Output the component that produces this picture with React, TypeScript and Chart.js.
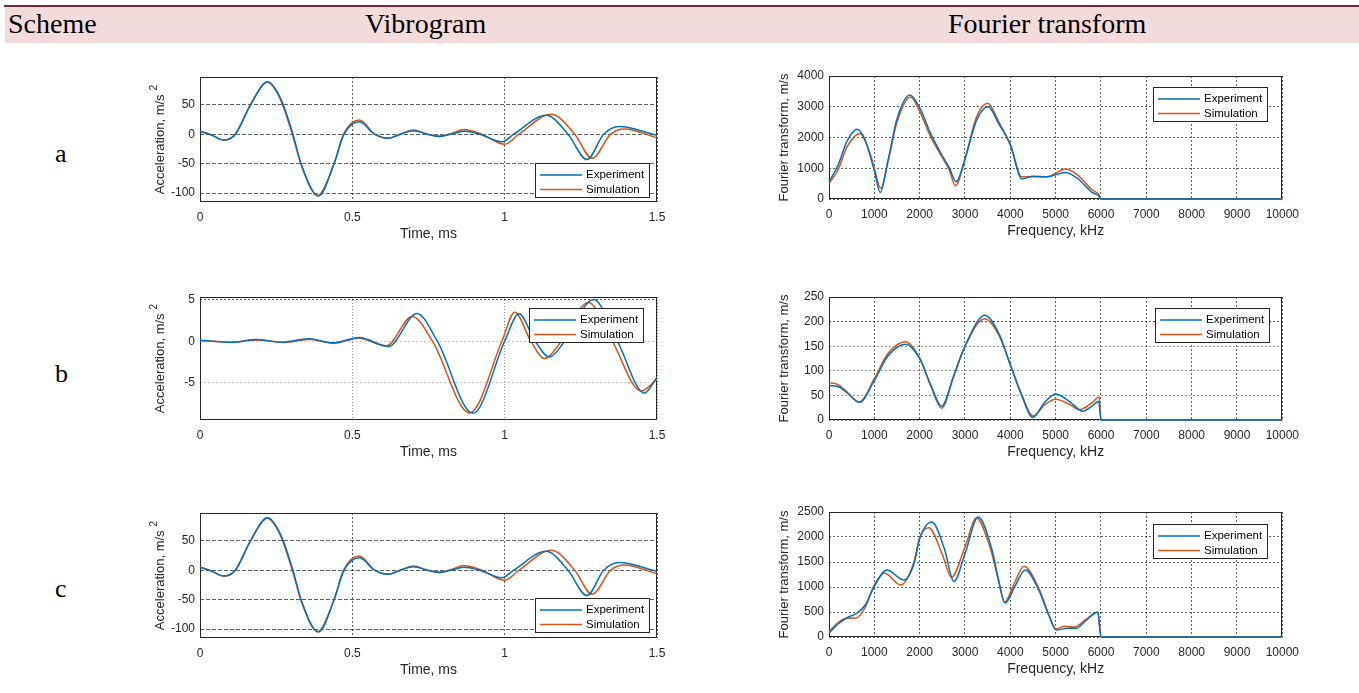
import React, { useEffect, useRef } from "react";
import { Chart, registerables } from "chart.js";
Chart.register(...registerables);

// ---------- Vibrogram a / c (same records) ----------
const vibATimeExp = [0, 0.04, 0.077, 0.116, 0.166, 0.222, 0.265, 0.305, 0.333, 0.389, 0.44, 0.473, 0.523, 0.573, 0.618, 0.657, 0.701, 0.746, 0.785, 0.83, 0.868, 0.918, 0.991, 1.03, 1.136, 1.208, 1.27, 1.325, 1.376, 1.5];
const vibAExp = [5, -2, -10, 0, 50, 89, 60, 0, -52, -105, -50, 0, 21, 0, -7, 0, 6, 0, -4, 1, 5, 0, -13, 0, 32, 0, -43, 0, 13, -2];
const vibATimeSim = [0, 0.04, 0.077, 0.116, 0.166, 0.22, 0.263, 0.303, 0.332, 0.387, 0.44, 0.471, 0.523, 0.573, 0.618, 0.657, 0.701, 0.746, 0.79, 0.83, 0.865, 0.925, 1.0, 1.047, 1.153, 1.23, 1.287, 1.348, 1.392, 1.5];
const vibASim = [5, -2, -10, 0, 50, 88, 60, 0, -52, -104, -50, 0, 24, 0, -7, 0, 7, 0, -3, 2, 8, 0, -17, 0, 34, 0, -41, 0, 9, -6];

// ---------- Vibrogram b ----------
const vibBTimeExp = [0, 0.105, 0.183, 0.266, 0.356, 0.434, 0.523, 0.618, 0.712, 0.779, 0.896, 1.0, 1.047, 1.1, 1.147, 1.197, 1.292, 1.37, 1.459, 1.5];
const vibBExp = [0.12, -0.15, 0.2, -0.12, 0.3, -0.2, 0.45, -0.65, 3.33, 0, -8.7, 0, 3.3, 0, -1.9, 0, 5.04, 0, -6.26, -4.35];
const vibBTimeSim = [0, 0.1, 0.19, 0.28, 0.36, 0.44, 0.52, 0.612, 0.696, 0.763, 0.885, 0.991, 1.033, 1.086, 1.13, 1.186, 1.275, 1.353, 1.448, 1.5];
const vibBSim = [0.1, -0.1, 0.15, -0.15, 0.25, -0.25, 0.35, -0.55, 2.97, 0, -8.65, 0, 3.5, 0, -2.1, 0, 4.67, 0, -6.0, -4.6];

// ---------- Fourier a ----------
const fftAFreqExp = [0, 200, 400, 625, 800, 1000, 1130, 1300, 1500, 1785, 2000, 2250, 2500, 2650, 2805, 3000, 3250, 3510, 3750, 4000, 4255, 4500, 4800, 5220, 5500, 5800, 5950, 6000, 10000];
const fftAExp = [560, 1100, 1890, 2270, 1900, 920, 215, 1240, 2600, 3380, 2970, 2100, 1400, 1030, 560, 1300, 2540, 3000, 2430, 1780, 650, 740, 720, 865, 650, 215, 110, 0, 0];
const fftAFreqSim = [0, 200, 400, 685, 900, 1000, 1140, 1300, 1500, 1800, 2000, 2250, 2500, 2650, 2790, 3000, 3250, 3500, 3750, 4000, 4255, 4500, 4800, 5220, 5500, 5800, 5950, 6000, 10000];
const fftASim = [500, 950, 1700, 2130, 1500, 1000, 345, 1200, 2500, 3320, 2850, 2000, 1350, 950, 430, 1300, 2650, 3110, 2500, 1750, 720, 720, 720, 975, 760, 300, 150, 0, 0];

// ---------- Fourier b ----------
const fftBFreqExp = [0, 200, 400, 670, 1000, 1300, 1690, 2000, 2250, 2485, 2750, 3000, 3437, 3750, 4000, 4250, 4494, 4750, 5000, 5300, 5600, 5800, 5950, 6000, 10000];
const fftBExp = [70, 68, 55, 36, 80, 130, 154, 125, 70, 28, 90, 150, 213, 175, 112, 50, 5, 35, 53, 38, 18, 28, 38, 0, 0];
const fftBFreqSim = [0, 200, 400, 670, 1000, 1300, 1690, 2000, 2250, 2485, 2750, 3000, 3437, 3750, 4000, 4250, 4500, 4750, 5000, 5300, 5520, 5800, 5960, 6000, 10000];
const fftBSim = [76, 72, 57, 36, 84, 135, 159, 126, 68, 24, 88, 150, 206, 172, 113, 52, 8, 30, 42, 32, 21, 35, 47, 0, 0];

// ---------- Fourier c ----------
const fftCFreqExp = [0, 200, 390, 610, 800, 1000, 1280, 1650, 1875, 2000, 2270, 2545, 2755, 3000, 3290, 3590, 3735, 3885, 4110, 4330, 4630, 4850, 5015, 5260, 5450, 5670, 5930, 6000, 10000];
const fftCExp = [75, 260, 380, 475, 640, 1015, 1340, 1140, 1465, 1965, 2300, 1765, 1110, 1665, 2400, 1765, 1160, 680, 1030, 1340, 930, 430, 140, 175, 175, 330, 495, 0, 0];
const fftCFreqSim = [0, 200, 390, 600, 800, 1000, 1220, 1580, 1875, 2000, 2200, 2500, 2700, 3000, 3250, 3550, 3735, 3870, 4100, 4300, 4630, 4850, 5000, 5200, 5400, 5650, 5930, 6000, 10000];
const fftCSim = [105, 290, 375, 380, 595, 1040, 1280, 1040, 1500, 1990, 2185, 1650, 1195, 1800, 2380, 1800, 1150, 695, 1100, 1415, 970, 450, 160, 215, 195, 340, 500, 0, 0];

// ---------- ticks / labels ----------
const timeTicks = [0, 0.5, 1, 1.5];
const freqTicks = [0, 1000, 2000, 3000, 4000, 5000, 6000, 7000, 8000, 9000, 10000];
const accelTicksAC = [-100, -50, 0, 50];
const accelTicksB = [-5, 0, 5];
const fftTicksA = [0, 1000, 2000, 3000, 4000];
const fftTicksB = [0, 50, 100, 150, 200, 250];
const fftTicksC = [0, 500, 1000, 1500, 2000, 2500];
const seriesNames = ["Experiment", "Simulation"];
const headerLabels = ["Scheme", "Vibrogram", "Fourier transform"];
const rowLabels = ["a", "b", "c"];

const BLUE = "#0072BD";
const RED = "#D95319";
const AX = "#262626";
const SANS = "'Liberation Sans', Arial, sans-serif";

const pts = (xs: number[], ys: number[]) => xs.map((x, i) => ({ x, y: ys[i] }));

const framePlugin = {
  id: "frameBox",
  beforeDatasetsDraw(chart: any) {
    const { ctx, chartArea: a } = chart;
    ctx.save();
    ctx.strokeStyle = AX;
    ctx.lineWidth = 1;
    ctx.strokeRect(Math.round(a.left) + 0.5, Math.round(a.top) + 0.5, Math.round(a.right - a.left) - 1, Math.round(a.bottom - a.top) - 1);
    ctx.restore();
  },
  afterDraw(chart: any) {
    const { ctx, chartArea: a } = chart;
    const yt = chart.options.plugins.yTitleOpt;
    if (yt) {
      ctx.save();
      ctx.translate(a.left - yt.dx, (a.top + a.bottom) / 2);
      ctx.rotate(-Math.PI / 2);
      ctx.fillStyle = AX;
      ctx.textBaseline = "middle";
      ctx.textAlign = "left";
      ctx.font = `13px ${SANS}`;
      const w1 = ctx.measureText(yt.text).width;
      let w2 = 0;
      if (yt.sup) {
        ctx.font = `10px ${SANS}`;
        w2 = ctx.measureText(yt.sup).width + 4;
      }
      const start = -(w1 + w2) / 2;
      ctx.font = `13px ${SANS}`;
      ctx.fillText(yt.text, start, 0);
      if (yt.sup) {
        ctx.font = `10px ${SANS}`;
        ctx.fillText(yt.sup, start + w1 + 4, -6);
      }
      ctx.restore();
    }
    const lg = chart.options.plugins.boxLegend;
    if (!lg) return;
    const w = 115, h = 35;
    const left = Math.round(a.right - lg.dx - w);
    const top = lg.corner === "ne" ? Math.round(a.top + lg.dy) : Math.round(a.bottom - lg.dy - h);
    ctx.save();
    ctx.fillStyle = "#ffffff";
    ctx.fillRect(left, top, w, h);
    ctx.strokeStyle = AX;
    ctx.lineWidth = 1;
    ctx.strokeRect(left + 0.5, top + 0.5, w - 1, h - 1);
    const colors = [BLUE, RED];
    ctx.font = `11.5px ${SANS}`;
    ctx.textBaseline = "middle";
    seriesNames.forEach((name, i) => {
      const y = top + 12 + i * 14.5;
      ctx.strokeStyle = colors[i];
      ctx.lineWidth = 1.5;
      ctx.beginPath();
      ctx.moveTo(left + 5, y);
      ctx.lineTo(left + 47, y);
      ctx.stroke();
      ctx.fillStyle = "#000";
      ctx.fillText(name, left + 51, y);
    });
    ctx.restore();
  },
};

type PanelProps = {
  plot: { x0: number; y0: number; x1: number; y1: number };
  xMin: number; xMax: number; xTicks: number[]; xTitle: string;
  yMin: number; yMax: number; yTicks: number[];
  yTitle: { text: string; sup?: string; dx: number };
  exp: { x: number; y: number }[];
  sim: { x: number; y: number }[];
  legend: { corner: "ne" | "se"; dx: number; dy: number };
  xGridColor: any; yGridColor: any; xDash: number[]; yDash: number[];
};

const YW = 60, PT = 14, PR = 22, XH = 42;

function Panel(p: PanelProps) {
  const ref = useRef<HTMLCanvasElement>(null);
  const W = YW + (p.plot.x1 - p.plot.x0) + PR;
  const H = PT + (p.plot.y1 - p.plot.y0) + XH;
  useEffect(() => {
    const chart = new Chart(ref.current!, {
      type: "line",
      data: {
        datasets: [
          { label: seriesNames[0], data: p.exp, borderColor: BLUE, borderWidth: 1.5, pointRadius: 0, cubicInterpolationMode: "monotone", fill: false, clip: 2 },
          { label: seriesNames[1], data: p.sim, borderColor: RED, borderWidth: 1.5, pointRadius: 0, cubicInterpolationMode: "monotone", fill: false, clip: 2 },
        ],
      },
      options: {
        animation: false,
        responsive: false,
        devicePixelRatio: 1,
        layout: { padding: { top: PT, right: PR, left: 0, bottom: 0 } },
        plugins: { legend: { display: false }, tooltip: { enabled: false }, boxLegend: p.legend, yTitleOpt: p.yTitle } as any,
        scales: {
          x: {
            type: "linear",
            min: p.xMin,
            max: p.xMax,
            afterBuildTicks: (s: any) => { s.ticks = p.xTicks.map((v) => ({ value: v })); },
            afterFit: (s: any) => { s.height = XH; },
            ticks: { color: AX, font: { family: SANS, size: 12 }, padding: 8, maxRotation: 0, autoSkip: false, callback: (v: any) => String(v) },
            grid: { color: p.xGridColor, drawTicks: false, lineWidth: 1 },
            border: { display: false, dash: p.xDash },
            title: { display: true, text: p.xTitle, color: AX, font: { family: SANS, size: 14 }, padding: { top: 0, bottom: 1 } },
          },
          y: {
            type: "linear",
            min: p.yMin,
            max: p.yMax,
            afterBuildTicks: (s: any) => { s.ticks = p.yTicks.map((v) => ({ value: v })); },
            afterFit: (s: any) => { s.width = YW; },
            ticks: { color: AX, font: { family: SANS, size: 12 }, padding: 5, autoSkip: false, callback: (v: any) => String(v) },
            grid: { color: p.yGridColor, drawTicks: false, lineWidth: 1 },
            border: { display: false, dash: p.yDash },
            title: { display: false },
          },
        },
      } as any,
      plugins: [framePlugin],
    });
    return () => chart.destroy();
  }, []);
  return (
    <canvas
      ref={ref}
      width={W}
      height={H}
      style={{ position: "absolute", left: p.plot.x0 - YW, top: p.plot.y0 - PT, width: W, height: H }}
    />
  );
}

const darkGrid = "rgba(0,0,0,0.62)";
const vibBYGrid = (c: any) => (c.tick && c.tick.value === 5 ? "rgba(0,0,0,0.7)" : "rgba(0,0,0,0.22)");
const fftBYGrid = (c: any) => (c.tick && c.tick.value === 200 ? "rgba(0,0,0,0.7)" : "rgba(0,0,0,0.4)");

export default function App() {
  const accelTitle = { text: "Acceleration, m/s", sup: "2", dx: 40 };
  const fftTitle = { text: "Fourier transform, m/s", dx: 45 };
  return (
    <div style={{ position: "absolute", left: 0, top: 0, width: 1359, height: 693, background: "#fff", overflow: "hidden" }}>
      <div style={{ position: "absolute", left: 4, top: 5, width: 1355, height: 2, background: "#6b2c2c" }} />
      <div style={{ position: "absolute", left: 5, top: 7, width: 1354, height: 36, background: "#f2dcdb" }} />
      {headerLabels.map((t, i) => (
        <div key={t} style={{ position: "absolute", left: [8, 365, 948][i], top: 8, fontFamily: "'Liberation Serif', 'Times New Roman', serif", fontSize: 28, lineHeight: "32px", color: "#000", whiteSpace: "nowrap" }}>{t}</div>
      ))}
      {rowLabels.map((t, i) => (
        <div key={t} style={{ position: "absolute", left: 55, top: [139, 359, 574][i], fontFamily: "'Liberation Serif', 'Times New Roman', serif", fontSize: 26, lineHeight: "30px", color: "#000" }}>{t}</div>
      ))}

      <Panel plot={{ x0: 200, y0: 77, x1: 657, y1: 202 }} xMin={0} xMax={1.5} xTicks={timeTicks} xTitle="Time, ms"
        yMin={-115} yMax={97} yTicks={accelTicksAC} yTitle={accelTitle}
        exp={pts(vibATimeExp, vibAExp)} sim={pts(vibATimeSim, vibASim)} legend={{ corner: "se", dx: 7, dy: 4 }}
        xGridColor={darkGrid} yGridColor={darkGrid} xDash={[2, 2]} yDash={[4, 2]} />
      <Panel plot={{ x0: 829, y0: 76, x1: 1285, y1: 199 }} xMin={0} xMax={10000} xTicks={freqTicks} xTitle="Frequency, kHz"
        yMin={0} yMax={4000} yTicks={fftTicksA} yTitle={fftTitle}
        exp={pts(fftAFreqExp, fftAExp)} sim={pts(fftAFreqSim, fftASim)} legend={{ corner: "ne", dx: 14, dy: 11 }}
        xGridColor={darkGrid} yGridColor={darkGrid} xDash={[2, 2]} yDash={[2, 2]} />

      <Panel plot={{ x0: 200, y0: 297, x1: 657, y1: 420 }} xMin={0} xMax={1.5} xTicks={timeTicks} xTitle="Time, ms"
        yMin={-9.5} yMax={5.33} yTicks={accelTicksB} yTitle={accelTitle}
        exp={pts(vibBTimeExp, vibBExp)} sim={pts(vibBTimeSim, vibBSim)} legend={{ corner: "ne", dx: 13, dy: 11 }}
        xGridColor={"rgba(0,0,0,0.45)"} yGridColor={vibBYGrid} xDash={[1, 2]} yDash={[2, 2]} />
      <Panel plot={{ x0: 829, y0: 297, x1: 1285, y1: 420 }} xMin={0} xMax={10000} xTicks={freqTicks} xTitle="Frequency, kHz"
        yMin={0} yMax={250} yTicks={fftTicksB} yTitle={fftTitle}
        exp={pts(fftBFreqExp, fftBExp)} sim={pts(fftBFreqSim, fftBSim)} legend={{ corner: "ne", dx: 12, dy: 11 }}
        xGridColor={darkGrid} yGridColor={fftBYGrid} xDash={[2, 2]} yDash={[2, 2]} />

      <Panel plot={{ x0: 200, y0: 513, x1: 657, y1: 638 }} xMin={0} xMax={1.5} xTicks={timeTicks} xTitle="Time, ms"
        yMin={-115} yMax={97} yTicks={accelTicksAC} yTitle={accelTitle}
        exp={pts(vibATimeExp, vibAExp)} sim={pts(vibATimeSim, vibASim)} legend={{ corner: "se", dx: 7, dy: 5 }}
        xGridColor={darkGrid} yGridColor={darkGrid} xDash={[2, 2]} yDash={[4, 2]} />
      <Panel plot={{ x0: 829, y0: 512, x1: 1285, y1: 637 }} xMin={0} xMax={10000} xTicks={freqTicks} xTitle="Frequency, kHz"
        yMin={0} yMax={2500} yTicks={fftTicksC} yTitle={fftTitle}
        exp={pts(fftCFreqExp, fftCExp)} sim={pts(fftCFreqSim, fftCSim)} legend={{ corner: "ne", dx: 14, dy: 12 }}
        xGridColor={darkGrid} yGridColor={darkGrid} xDash={[2, 2]} yDash={[2, 2]} />
    </div>
  );
}
